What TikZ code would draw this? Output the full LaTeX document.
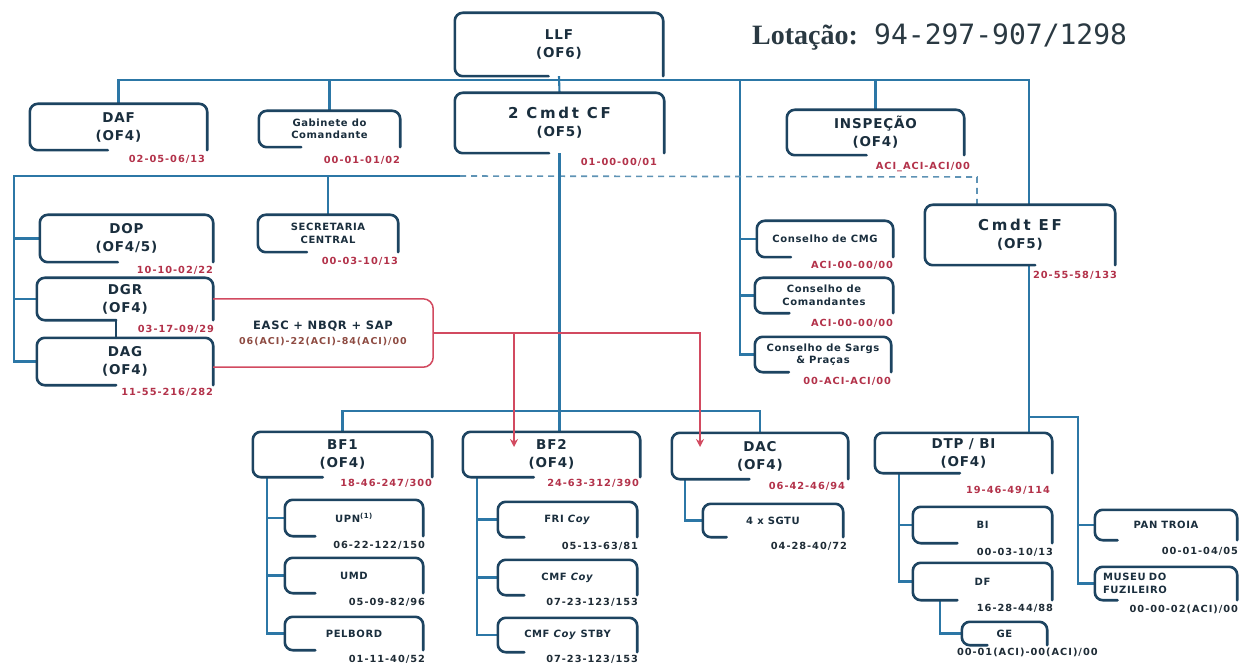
\documentclass[tikz,border=0pt]{standalone}
\usepackage{fontspec}
\setmainfont{DejaVu Sans}
\newfontfamily\boxfont[LetterSpace=6]{DejaVu Sans}
\newfontfamily\widefont[LetterSpace=18]{DejaVu Sans}
\newfontfamily\numfont[LetterSpace=10]{DejaVu Sans}
\newfontfamily\headserif{Liberation Serif}
\newfontfamily\headmono{DejaVu Sans Mono}
\usetikzlibrary{calc,arrows.meta}

\pgfdeclarelayer{paper}
\pgfdeclarelayer{wires}
\pgfsetlayers{paper,wires,main}

\definecolor{unitline}{HTML}{1D4461}
\definecolor{linkblue}{HTML}{2C77A6}
\definecolor{dashblue}{HTML}{5E93B5}
\definecolor{unittext}{HTML}{1A2E3D}
\definecolor{numred}{HTML}{B3324A}
\definecolor{numdark}{HTML}{1F2C36}
\definecolor{supportred}{HTML}{D24A60}
\definecolor{supportbrown}{HTML}{8E4B42}
\definecolor{headgrey}{HTML}{2A3942}

\tikzset{
  unitarea/.style={draw=none, inner sep=0pt, align=center, text=unittext},
  unitrim/.style={draw=unitline, line width=2.6pt, rounded corners=8pt, line cap=round},
  link/.style={draw=linkblue, line width=2.1pt},
  dashlink/.style={draw=dashblue, line width=1.6pt, dash pattern=on 6pt off 5pt},
  supportlink/.style={draw=supportred, line width=1.5pt},
  supportarrow/.style={supportlink, -{Stealth[length=8pt,width=8pt]}},
  bigunit/.style={font=\boxfont\bfseries\fontsize{13.5}{18}\selectfont},
  smallunit/.style={font=\boxfont\bfseries\fontsize{10}{12.5}\selectfont},
  subunit/.style={font=\boxfont\bfseries\fontsize{10}{12.5}\selectfont},
  numtag/.style={anchor=north east, inner sep=0pt, font=\numfont\bfseries\fontsize{9.8}{11}\selectfont, text=numred},
  subtag/.style={numtag, text=numdark},
}

% unit box: name, x0, y0, x1, y1, fraction of the bottom edge drawn, text style, text
\newcommand\orgunit[8]{%
  \node[unitarea, #7, minimum width={(#4-#2)*1pt}, minimum height={(#5-#3)*1pt}]
    (#1) at ({(#2+#4)/2},{(#3+#5)/2}) {#8};
  \draw[unitrim] ($(#1.south west)!#6!(#1.south east)$) -- (#1.south west)
    -- (#1.north west) -- (#1.north east) -- (#1.south east);
}

\begin{document}
\begin{tikzpicture}[x=1pt, y=-1pt]
\begin{pgfonlayer}{paper}
\fill[white] (0,0) rectangle (1247,668);
\end{pgfonlayer}
\useasboundingbox (0,0) rectangle (1247,668);

% ---------- headcount ----------
\node[anchor=base west, inner sep=0pt, text=headgrey, font=\headserif\bfseries\fontsize{28}{30}\selectfont] (lotlabel) at (752,45) {Lotação:};
\node[anchor=base west, inner sep=0pt, text=headgrey, font=\headmono\fontsize{28}{30}\selectfont] (lotvalue) at (874,45) {94-297-907/1298};

% ---------- junction points ----------
\coordinate (topbusR) at (1029,80);
\coordinate (councilbus) at (740,80);
\coordinate (staffbusL) at (14,176);
\coordinate (staffbusEnd) at (460,176);
\coordinate (efdash) at (977,177);
\coordinate (batbusY) at (0,411);
\coordinate (efsplit) at (1029,417);
\coordinate (efsplitR) at (1078,417);
\coordinate (bf1x) at (267,477);
\coordinate (bf2x) at (477,477);
\coordinate (dacx) at (685,479);
\coordinate (dtpx) at (899,473);
\coordinate (dfx) at (940,600);
\coordinate (bf2in) at (514,447);
\coordinate (dacin) at (700,447);

% ---------- units ----------
\orgunit{llf}{455}{13}{663}{76}{0.45}{bigunit}{LLF\\(OF6)}
\orgunit{daf}{30}{104}{207}{150}{0.44}{bigunit}{DAF\\(OF4)}
\orgunit{gab}{259}{111}{400}{147}{0.3}{smallunit}{Gabinete do\\Comandante}
\orgunit{cmdtcf}{455}{93}{664}{153}{0.45}{bigunit}{{\widefont\fontsize{15}{19}\selectfont 2 Cmdt CF}\\(OF5)}
\orgunit{insp}{787}{110}{964}{155}{0.45}{bigunit}{INSPEÇÃO\\(OF4)}
\orgunit{dop}{40}{215}{213}{262}{0.45}{bigunit}{DOP\\(OF4/5)}
\orgunit{secr}{258}{215}{398}{252}{0.35}{smallunit}{SECRETARIA\\CENTRAL}
\orgunit{dgr}{37}{278}{213}{320}{0.45}{bigunit}{DGR\\(OF4)}
\orgunit{dag}{37}{338}{213}{385}{0.45}{bigunit}{DAG\\(OF4)}
\orgunit{cons1}{757}{221}{893}{257}{0.25}{smallunit}{Conselho de CMG}
\orgunit{cons2}{755}{278}{893}{313}{0.25}{smallunit}{Conselho de\\Comandantes}
\orgunit{cons3}{755}{337}{891}{372}{0.25}{smallunit}{Conselho de Sargs\\\& Praças}
\orgunit{cmdtef}{925}{205}{1115}{265}{0.58}{bigunit}{{\widefont\fontsize{15}{19}\selectfont Cmdt EF}\\(OF5)}
\orgunit{bf1}{253}{432}{432}{477}{0.39}{bigunit}{BF1\\(OF4)}
\orgunit{upn}{285}{500}{423}{536}{0.22}{subunit}{UPN\textsuperscript{(1)}}
\orgunit{umd}{285}{558}{423}{593}{0.22}{subunit}{UMD}
\orgunit{pelbord}{285}{617}{423}{650}{0.22}{subunit}{PELBORD}
\orgunit{bf2}{463}{432}{640}{477}{0.4}{bigunit}{BF2\\(OF4)}
\orgunit{fri}{498}{502}{637}{537}{0.19}{subunit}{FRI \textit{Coy}}
\orgunit{cmf}{498}{560}{637}{595}{0.19}{subunit}{CMF \textit{Coy}}
\orgunit{cmfs}{498}{618}{637}{652}{0.19}{subunit}{CMF \textit{Coy} STBY}
\orgunit{dac}{672}{433}{848}{479}{0.44}{bigunit}{DAC\\(OF4)}
\orgunit{sgtu}{703}{504}{843}{537}{0.17}{subunit}{4 x SGTU}
\orgunit{dtp}{875}{433}{1052}{473}{0.48}{bigunit}{DTP / BI\\(OF4)}
\orgunit{bi}{913}{507}{1052}{543}{0.32}{subunit}{BI}
\orgunit{df}{913}{563}{1052}{600}{0.32}{subunit}{DF}
\orgunit{ge}{962}{622}{1047}{645}{0.3}{subunit}{GE}
\orgunit{pan}{1095}{510}{1237}{540}{0.16}{subunit}{PAN TROIA}
\orgunit{museu}{1095}{567}{1237}{600}{0.16}{subunit, text width=126pt, align=left}{MUSEU DO\\FUZILEIRO}

% DGR bottom edge running down into DAG
\draw[unitrim] ($(dgr.south west)!0.45!(dgr.south east)$) -- ($(dag.north west)!0.45!(dag.north east)$);

% ---------- support element (EASC + NBQR + SAP) ----------
\node[unitarea, minimum width=220pt, minimum height=68pt, font=\boxfont\bfseries\fontsize{11.5}{15}\selectfont] (easc) at (323,333)
  {EASC + NBQR + SAP\\{\color{supportbrown}\numfont\fontsize{9.5}{11}\selectfont 06(ACI)-22(ACI)-84(ACI)/00}};

% ---------- command links ----------
\begin{pgfonlayer}{wires}
\draw[link] (daf.north) |- (topbusR) -- (topbusR |- cmdtef.north);
\draw[link] (llf.south) -- (cmdtcf.north);
\draw[link] (gab.north) -- (gab.north |- topbusR);
\draw[link] (insp.north) -- (insp.north |- topbusR);
\draw[link] (councilbus) |- (cons3.west);
\draw[link] (councilbus |- cons1.west) -- (cons1.west);
\draw[link] (councilbus |- cons2.west) -- (cons2.west);
\draw[link] (staffbusEnd) -- (staffbusL) |- (dag.west);
\draw[link] (staffbusL |- dop.west) -- (dop.west);
\draw[link] (staffbusL |- dgr.west) -- (dgr.west);
\draw[link] (secr.north) -- (secr.north |- staffbusL);
\draw[dashlink] (staffbusEnd) -- (efdash) -- (efdash |- cmdtef.north);
\draw[link] (cmdtcf.south) -- (cmdtcf.south |- bf2.north);
\draw[link] (bf1.north) -- (bf1.north |- batbusY) -- (dac.north |- batbusY) -- (dac.north);
\draw[link] (bf1x) |- (pelbord.west);
\draw[link] (bf1x |- upn.west) -- (upn.west);
\draw[link] (bf1x |- umd.west) -- (umd.west);
\draw[link] (bf2x) |- (cmfs.west);
\draw[link] (bf2x |- fri.west) -- (fri.west);
\draw[link] (bf2x |- cmf.west) -- (cmf.west);
\draw[link] (dacx) |- (sgtu.west);
\draw[link] (topbusR |- cmdtef.south) -- (topbusR |- dtp.north);
\draw[link] (efsplit) -- (efsplitR) |- (museu.west);
\draw[link] (efsplitR |- pan.west) -- (pan.west);
\draw[link] (dtpx) |- (df.west);
\draw[link] (dtpx |- bi.west) -- (bi.west);
\draw[link] (dfx) |- (ge.west);
\end{pgfonlayer}

% ---------- support links ----------
\draw[supportlink, rounded corners=10pt] (dgr.east) -- (easc.north east) -- (easc.south east) -- (dag.east |- easc.south);
\draw[supportarrow] (easc.east) -| (dacin);
\draw[supportarrow] (bf2in |- easc.east) -- (bf2in);

% ---------- headcount tags ----------
\node[numtag] (daf-n) at ($(daf.south east)+(-2,5)$) {02-05-06/13};
\node[numtag] (gab-n) at ($(gab.south east)+(0,9)$) {00-01-01/02};
\node[numtag] (cmdtcf-n) at ($(cmdtcf.south east)+(-7,5)$) {01-00-00/01};
\node[numtag] (insp-n) at ($(insp.south east)+(6,7)$) {ACI\_ACI-ACI/00};
\node[numtag] (dop-n) at ($(dop.south east)+(0,4)$) {10-10-02/22};
\node[numtag] (secr-n) at ($(secr.south east)+(0,5)$) {00-03-10/13};
\node[numtag] (dgr-n) at ($(dgr.south east)+(1,5)$) {03-17-09/29};
\node[numtag] (dag-n) at ($(dag.south east)+(0,3)$) {11-55-216/282};
\node[numtag] (cons1-n) at ($(cons1.south east)+(0,4)$) {ACI-00-00/00};
\node[numtag] (cons2-n) at ($(cons2.south east)+(0,6)$) {ACI-00-00/00};
\node[numtag] (cons3-n) at ($(cons3.south east)+(0,5)$) {00-ACI-ACI/00};
\node[numtag] (cmdtef-n) at ($(cmdtef.south east)+(2,6)$) {20-55-58/133};
\node[numtag] (bf1-n) at ($(bf1.south east)+(0,2)$) {18-46-247/300};
\node[numtag] (bf2-n) at ($(bf2.south east)+(-1,2)$) {24-63-312/390};
\node[numtag] (dac-n) at ($(dac.south east)+(-3,3)$) {06-42-46/94};
\node[numtag] (dtp-n) at ($(dtp.south east)+(-2,13)$) {19-46-49/114};
\node[subtag] (upn-n) at ($(upn.south east)+(2,5)$) {06-22-122/150};
\node[subtag] (umd-n) at ($(umd.south east)+(2,5)$) {05-09-82/96};
\node[subtag] (pelbord-n) at ($(pelbord.south east)+(2,5)$) {01-11-40/52};
\node[subtag] (fri-n) at ($(fri.south east)+(1,5)$) {05-13-63/81};
\node[subtag] (cmf-n) at ($(cmf.south east)+(1,3)$) {07-23-123/153};
\node[subtag] (cmfs-n) at ($(cmfs.south east)+(1,3)$) {07-23-123/153};
\node[subtag] (sgtu-n) at ($(sgtu.south east)+(4,5)$) {04-28-40/72};
\node[subtag] (bi-n) at ($(bi.south east)+(1,5)$) {00-03-10/13};
\node[subtag] (df-n) at ($(df.south east)+(1,4)$) {16-28-44/88};
\node[subtag, anchor=north west] (ge-n) at ($(ge.south west)+(-5,3)$) {00-01(ACI)-00(ACI)/00};
\node[subtag] (pan-n) at ($(pan.south east)+(1,7)$) {00-01-04/05};
\node[subtag] (museu-n) at ($(museu.south east)+(1,5)$) {00-00-02(ACI)/00};
\end{tikzpicture}
\end{document}
